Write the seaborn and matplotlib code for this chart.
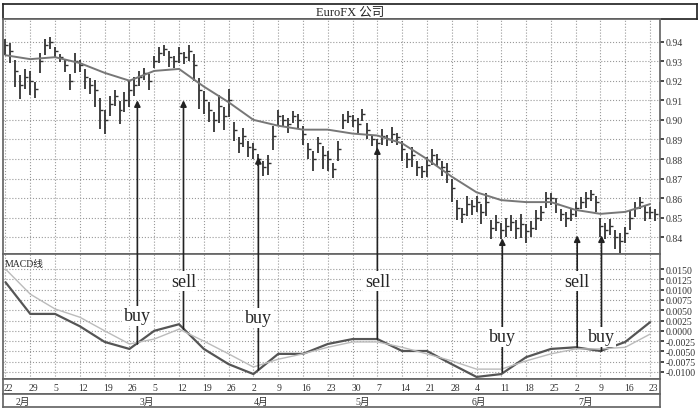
import matplotlib
matplotlib.use("Agg")
import matplotlib.pyplot as plt
import numpy as np
import seaborn as sns

sns.set_theme(style="white")
plt.rcParams["font.family"] = ["Liberation Serif", "Noto Sans CJK SC"]

# daily closes, five trading days per week from 22 Jan
closes = [
    0.938, 0.935, 0.925, 0.918, 0.922,
    0.920, 0.916, 0.930, 0.938, 0.940,
    0.935, 0.932, 0.928, 0.920, 0.930,
    0.928, 0.922, 0.918, 0.915, 0.905,
    0.900, 0.908, 0.912, 0.905, 0.910,
    0.915, 0.918, 0.922, 0.924, 0.920,
    0.930, 0.934, 0.936, 0.932, 0.930,
    0.934, 0.932, 0.935, 0.928, 0.915,
    0.910, 0.905, 0.900, 0.907, 0.902,
    0.910, 0.895, 0.888, 0.892, 0.886,
    0.885, 0.880, 0.876, 0.878, 0.892,
    0.902, 0.900, 0.898, 0.902, 0.900,
    0.893, 0.885, 0.880, 0.888, 0.882,
    0.880, 0.875, 0.885, 0.900, 0.902,
    0.900, 0.898, 0.903, 0.895, 0.890,
    0.888, 0.892, 0.890, 0.893, 0.891,
    0.885, 0.880, 0.882, 0.876, 0.874,
    0.877, 0.882, 0.880, 0.876, 0.874,
    0.865, 0.855, 0.852, 0.857, 0.856,
    0.858, 0.853, 0.858, 0.845, 0.848,
    0.844, 0.846, 0.848, 0.845, 0.847,
    0.843, 0.845, 0.850, 0.853, 0.860,
    0.860, 0.857, 0.852, 0.850, 0.852,
    0.855, 0.858, 0.860, 0.862, 0.858,
    0.846, 0.844, 0.846, 0.840, 0.838,
    0.842, 0.850, 0.855, 0.858, 0.853,
    0.853, 0.852, 0.855, 0.870, 0.872, 0.870,
]
# daily high-low span
spans = [
    0.008, 0.010, 0.014, 0.012, 0.010, 0.012, 0.008, 0.010, 0.008, 0.006,
    0.006, 0.004, 0.006, 0.008, 0.010, 0.006, 0.010, 0.008, 0.014, 0.016,
    0.012, 0.010, 0.008, 0.012, 0.010, 0.014, 0.010, 0.008, 0.006, 0.008,
    0.006, 0.008, 0.006, 0.008, 0.006, 0.008, 0.006, 0.008, 0.014, 0.016,
    0.012, 0.010, 0.010, 0.014, 0.012, 0.014, 0.010, 0.008, 0.010, 0.008,
    0.008, 0.006, 0.008, 0.010, 0.012, 0.008, 0.006, 0.008, 0.006, 0.008,
    0.010, 0.008, 0.010, 0.008, 0.012, 0.010, 0.008, 0.010, 0.008, 0.006,
    0.006, 0.008, 0.006, 0.008, 0.006, 0.006, 0.008, 0.006, 0.008, 0.006,
    0.010, 0.008, 0.010, 0.008, 0.006, 0.010, 0.008, 0.006, 0.008, 0.010,
    0.012, 0.010, 0.008, 0.010, 0.008, 0.008, 0.010, 0.012, 0.010, 0.008,
    0.008, 0.010, 0.008, 0.010, 0.012, 0.010, 0.008, 0.010, 0.008, 0.008,
    0.006, 0.008, 0.006, 0.008, 0.006, 0.008, 0.006, 0.008, 0.006, 0.008,
    0.010, 0.008, 0.008, 0.010, 0.010, 0.008, 0.010, 0.008, 0.006, 0.008,
    0.006, 0.006, 0.008, 0.016, 0.010, 0.008,
]
# weekly readings of moving average, MACD and signal line
week_days = list(range(0, 131, 5))
ma_line = [0.933, 0.931, 0.932, 0.929, 0.924, 0.920, 0.925, 0.926, 0.917, 0.909,
           0.900, 0.897, 0.895, 0.895, 0.893, 0.892, 0.888, 0.880, 0.871, 0.863,
           0.859, 0.858, 0.858, 0.854, 0.852, 0.853, 0.857]
macd_line = [0.0118, 0.0041, 0.0041, 0.0011, -0.0027, -0.0044, 0.0000, 0.0016, -0.0044, -0.0081,
             -0.0105, -0.0056, -0.0056, -0.0032, -0.0020, -0.0020, -0.0049, -0.0049, -0.0081, -0.0112,
             -0.0105, -0.0064, -0.0044, -0.0040, -0.0049, -0.0027, 0.0021]
signal_line = [0.0150, 0.0089, 0.0053, 0.0033, 0.0000, -0.0032, -0.0020, 0.0004, -0.0025, -0.0056,
               -0.0088, -0.0069, -0.0056, -0.0040, -0.0027, -0.0027, -0.0040, -0.0056, -0.0073, -0.0093,
               -0.0093, -0.0073, -0.0056, -0.0044, -0.0044, -0.0040, -0.0008]
week_labels = ["22", "29", "5", "12", "19", "26", "5", "12", "19", "26", "2", "9", "16", "23",
               "30", "7", "14", "21", "28", "4", "11", "18", "25", "2", "9", "16", "23"]
month_days = [2, 27, 50, 70.5, 94, 115.5]
month_labels = ["2月", "3月", "4月", "5月", "6月", "7月"]
# signals: day, label, arrow head (price), arrow tail (macd), text position (macd)
sig_days = [26.6, 35.9, 51, 75, 100.2, 115.3, 120.2]
sig_labels = ["buy", "sell", "buy", "sell", "buy", "sell", "buy"]
sig_heads = [0.910, 0.910, 0.881, 0.886, 0.8395, 0.841, 0.841]
sig_tails = [-0.0032, 0.0004, -0.0095, -0.0020, -0.0100, -0.0040, -0.0049]
sig_text = [0.0037, 0.0120, 0.0032, 0.0120, -0.0015, 0.0120, -0.0015]

W, H = 700, 410
fig = plt.figure(figsize=(7, 4.1), dpi=100)
L, R = 3 / W, 660 / W


def box(top, bot, right=R):
    return [L, 1 - bot / H, right - L, (bot - top) / H]


ax_t = fig.add_axes(box(5, 20, 697 / W))
ax_t.set_xticks([]); ax_t.set_yticks([])
ax_t.text(0.5, 0.45, "EuroFX 公司", ha="center", va="center", fontsize=9, transform=ax_t.transAxes)

ax_p = fig.add_axes(box(20, 255))
ax_m = fig.add_axes(box(255, 380), sharex=ax_p)
ax_d = fig.add_axes(box(380, 395))
ax_mo = fig.add_axes(box(395, 408))

days = np.arange(len(closes))
c = np.array(closes); s = np.array(spans)
ax_p.vlines(days, c - s * 0.6, c + s * 0.4, color="#333333", lw=1.3)
ax_p.hlines(c, days, days + 0.6, color="#333333", lw=1.0)
sns.lineplot(x=week_days, y=ma_line, ax=ax_p, color="#777777", lw=1.4)
sns.lineplot(x=week_days, y=macd_line, ax=ax_m, color="#555555", lw=1.6)
sns.lineplot(x=week_days, y=signal_line, ax=ax_m, color="#bbbbbb", lw=1.0)

ax_p.set_xlim(-0.5, 132)
ax_p.set_ylim(0.8315, 0.9515)
ax_m.set_ylim(-0.0117, 0.01865)
ax_p.set_yticks(np.arange(0.84, 0.945, 0.01))
ax_m.set_yticks(np.arange(-0.01, 0.0151, 0.0025))
ax_p.yaxis.set_major_formatter(matplotlib.ticker.FormatStrFormatter("%.2f"))
ax_m.yaxis.set_major_formatter(matplotlib.ticker.FormatStrFormatter("%.4f"))
for ax in (ax_p, ax_m):
    ax.set_xticks(week_days)
    ax.yaxis.tick_right()
    ax.tick_params(axis="y", labelsize=7, length=3, pad=1, colors="#333333", direction="out")
    ax.tick_params(axis="x", labelbottom=False, length=0)
    ax.grid(True, ls=":", color="#999999", lw=0.8)
    for sp in ax.spines.values():
        sp.set_color("#666666")
    ax.set_ylabel("")
ax_m.text(0.002, 0.96, "MACD线", transform=ax_m.transAxes, fontsize=7, va="top")

for d, lab, hy, ty, tx in zip(sig_days, sig_labels, sig_heads, sig_tails, sig_text):
    ax_m.annotate("", xy=(d, hy), xycoords=ax_p.transData, xytext=(d, ty), textcoords="data",
                  annotation_clip=False,
                  arrowprops=dict(arrowstyle="-|>", color="#222222", lw=1.2, mutation_scale=9,
                                  shrinkA=0, shrinkB=0))
    ax_m.text(d, tx, lab, ha="center", va="center", fontsize=13, zorder=5,
              bbox=dict(facecolor="white", edgecolor="none", pad=1))

ax_d.set_xlim(ax_p.get_xlim()); ax_d.set_ylim(0, 1)
ax_d.set_xticks([]); ax_d.set_yticks([])
for d, lab in zip(week_days, week_labels):
    ax_d.text(d - 0.3, 0.45, lab, fontsize=7, va="center", ha="left", color="#333333")
ax_mo.set_xlim(ax_p.get_xlim()); ax_mo.set_ylim(0, 1)
ax_mo.set_xticks([]); ax_mo.set_yticks([])
for d, lab in zip(month_days, month_labels):
    ax_mo.text(d, 0.45, lab, fontsize=7, va="center", ha="left", color="#333333")
for ax in (ax_d, ax_mo):
    for sp in ax.spines.values():
        sp.set_color("#666666")

fig.savefig("out.png", dpi=100)
